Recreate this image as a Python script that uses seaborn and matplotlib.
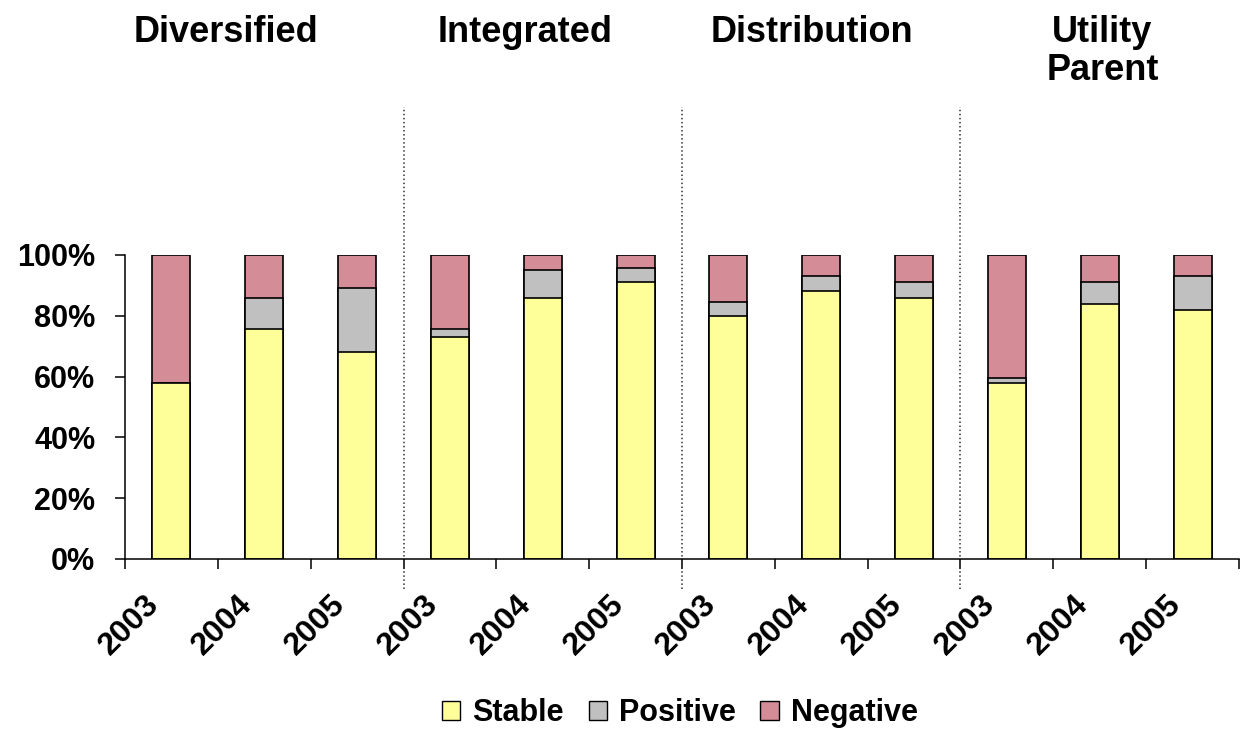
import matplotlib
matplotlib.use("Agg")
import matplotlib.pyplot as plt
import matplotlib.transforms as mtransforms
from matplotlib.patches import Patch
import seaborn as sns
import pandas as pd

# Datos
groups = ["Diversified", "Integrated", "Distribution", "Utility\nParent"]
years = ["2003", "2004", "2005"]
stable = [58, 75.5, 68, 73, 86, 91, 80, 88, 86, 58, 84, 82]
positive = [0, 10.5, 21, 2.5, 9, 4.6, 4.5, 5, 5, 1.6, 7, 11]
negative = [42, 14, 11, 24.5, 5, 4.4, 15.5, 7, 9, 40.4, 9, 7]

c_stable = "#FFFF99"
c_positive = "#C0C0C0"
c_negative = "#D48C96"

keys = [g.replace("\n", " ") + " " + y for g in groups for y in years]
df = pd.DataFrame({
    "key": keys,
    "stable": stable,
    "pos_top": [s + p for s, p in zip(stable, positive)],
    "total": [s + p + n for s, p, n in zip(stable, positive, negative)],
})

sns.set_style("white")
plt.rcParams["font.family"] = ["Liberation Sans", "DejaVu Sans"]
plt.rcParams["font.weight"] = "bold"
plt.rcParams["text.color"] = "black"
plt.rcParams["xtick.color"] = "black"
plt.rcParams["ytick.color"] = "black"

fig = plt.figure(figsize=(12.42, 7.33), dpi=100)
ax = fig.add_axes([125 / 1242, (733 - 559) / 733, (1239 - 125) / 1242, (559 - 255) / 733])

# barras apiladas (se dibujan de la mas alta a la mas baja)
for col, color in [("total", c_negative), ("pos_top", c_positive), ("stable", c_stable)]:
    sns.barplot(data=df, x="key", y=col, order=keys, color=color, saturation=1,
                width=0.41, edgecolor="black", linewidth=1.2, ax=ax)

ax.set_xlim(-0.5, len(keys) - 0.5)
ax.set_ylim(0, 100)
ax.set_xlabel("")
ax.set_ylabel("")

ax.set_yticks([0, 20, 40, 60, 80, 100])
ax.set_yticklabels([f"{v}%" for v in [0, 20, 40, 60, 80, 100]], fontsize=22, fontweight="bold")
ax.tick_params(axis="y", direction="out", length=7.5, width=1.1, pad=14, left=True)

ax.set_xticks(range(len(keys)))
ax.set_xticklabels(years * len(groups), fontsize=23, fontweight="bold")
ax.set_xticks([i - 0.5 for i in range(len(keys) + 1)], minor=True)
ax.tick_params(axis="x", which="major", length=0, pad=22)
ax.tick_params(axis="x", which="minor", direction="out", length=7.5, width=1.1, bottom=True)
shift = mtransforms.ScaledTranslation(-27 / 100, 0, fig.dpi_scale_trans)
for lab in ax.get_xticklabels():
    lab.set_rotation(45)
    lab.set_ha("right")
    lab.set_va("top")
    lab.set_rotation_mode("anchor")
    lab.set_transform(lab.get_transform() + shift)

sns.despine(ax=ax, top=True, right=True)
for side in ["left", "bottom"]:
    ax.spines[side].set_color("black")
    ax.spines[side].set_linewidth(1.1)

# separadores punteados
for xs in [2.5, 5.5, 8.5]:
    ax.plot([xs, xs], [-10, 148.7], linestyle=":", color="#333333", lw=1.1, clip_on=False)

# titulos de grupo
title_x = [0.59, 3.81, 6.90, 10.03]
for g, tx in zip(groups, title_x):
    ax.text(tx, 1 - 15 / 733, g, ha="center", va="top",
            transform=mtransforms.blended_transform_factory(ax.transData, fig.transFigure),
            fontsize=26, fontweight="bold", linespacing=1.1)

handles = [Patch(facecolor=c, edgecolor="black", linewidth=1.0) for c in [c_stable, c_positive, c_negative]]
fig.legend(handles, ["Stable", "Positive", "Negative"], loc="center",
           bbox_to_anchor=(680 / 1242, 1 - 713 / 733), ncol=3, frameon=False,
           prop={"size": 22, "weight": "bold"}, handlelength=0.6, handleheight=0.6,
           handletextpad=0.4, columnspacing=0.8)

fig.savefig("out.png", dpi=100)
